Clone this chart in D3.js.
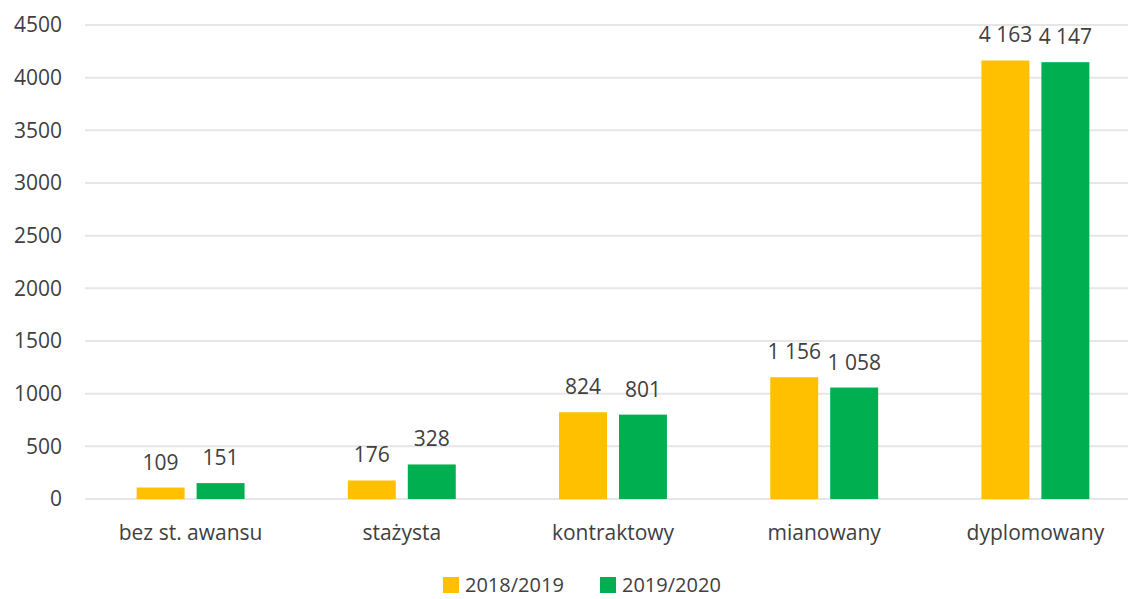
<!DOCTYPE html>
<html>
<head>
<meta charset="utf-8">
<script src="https://cdn.jsdelivr.net/npm/d3@7"></script>
<style>
  body { margin: 0; background: #fff; }
  svg text { font-family: "Open Sans", "Liberation Sans", sans-serif; fill: #404040; }
</style>
</head>
<body>
<div id="chart"></div>
<script>
// data
const categories = ['bez st. awansu', 'stażysta', 'kontraktowy', 'mianowany', 'dyplomowany'];
const seriesNames = ['2018/2019', '2019/2020'];
const values2018 = [109, 176, 824, 1156, 4163];
const values2019 = [151, 328, 801, 1058, 4147];
const yTicks = [0, 500, 1000, 1500, 2000, 2500, 3000, 3500, 4000, 4500];
const colors = ['#FFC000', '#00B050'];

const width = 1128, height = 599;
const plot = { left: 85, right: 1141, top: 25, bottom: 499 };

const plLocale = d3.formatLocale({ decimal: ',', thousands: '\u00a0', grouping: [3], currency: ['', ' zł'] });
const fmt = plLocale.format(',d');

const svg = d3.select('#chart').append('svg')
  .attr('width', width)
  .attr('height', height);

const y = d3.scaleLinear().domain([0, 4500]).range([plot.bottom, plot.top]);

const x0 = d3.scaleBand()
  .domain(categories)
  .range([plot.left, plot.right])
  .paddingInner(0.489)
  .paddingOuter(0.2445);

const x1 = d3.scaleBand()
  .domain(seriesNames)
  .range([0, x0.bandwidth()])
  .paddingInner(0.2);

// gridlines
svg.append('g').selectAll('line')
  .data(yTicks)
  .join('line')
  .attr('x1', plot.left)
  .attr('x2', width)
  .attr('y1', d => y(d))
  .attr('y2', d => y(d))
  .attr('stroke', '#E6E6E6')
  .attr('stroke-width', 2);

// y tick labels
svg.append('g').selectAll('text')
  .data(yTicks)
  .join('text')
  .attr('x', 62)
  .attr('y', d => y(d))
  .attr('dy', '0.35em')
  .attr('text-anchor', 'end')
  .attr('font-size', 21)
  .text(d => d);

// bars
const rows = categories.map((c, i) => ({ cat: c, vals: [values2018[i], values2019[i]] }));

const groups = svg.append('g').selectAll('g')
  .data(rows)
  .join('g')
  .attr('transform', d => `translate(${x0(d.cat)},0)`);

groups.selectAll('rect')
  .data(d => d.vals.map((v, j) => ({ s: seriesNames[j], v: v, j: j })))
  .join('rect')
  .attr('x', d => x1(d.s))
  .attr('y', d => y(d.v))
  .attr('width', x1.bandwidth())
  .attr('height', d => y(0) - y(d.v))
  .attr('fill', d => colors[d.j]);

groups.selectAll('text')
  .data(d => d.vals.map((v, j) => ({ s: seriesNames[j], v: v, j: j })))
  .join('text')
  .attr('x', d => x1(d.s) + x1.bandwidth() / 2)
  .attr('y', d => y(d.v) - 18)
  .attr('text-anchor', 'middle')
  .attr('font-size', 21)
  .text(d => fmt(d.v));

// category labels
svg.append('g').selectAll('text')
  .data(categories)
  .join('text')
  .attr('x', d => x0(d) + x0.bandwidth() / 2)
  .attr('y', 540)
  .attr('text-anchor', 'middle')
  .attr('font-size', 21)
  .text(d => d);

// legend
const legendX = [443, 600];
const legend = svg.append('g').selectAll('g')
  .data(seriesNames)
  .join('g')
  .attr('transform', (d, i) => `translate(${legendX[i]},577)`);

legend.append('rect')
  .attr('width', 16)
  .attr('height', 16)
  .attr('fill', (d, i) => colors[i]);

legend.append('text')
  .attr('x', 22)
  .attr('y', 8)
  .attr('dy', '0.35em')
  .attr('font-size', 20)
  .text(d => d);
</script>
</body>
</html>
